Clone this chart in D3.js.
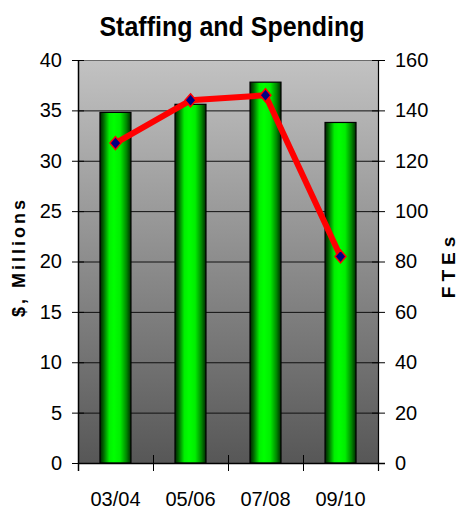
<!DOCTYPE html>
<html>
<head>
<meta charset="utf-8">
<script src="https://cdn.jsdelivr.net/npm/d3@7"></script>
<style>
  body { margin: 0; background: #fff; }
  text { font-family: "Liberation Sans", Arial, sans-serif; fill: #000; }
</style>
</head>
<body>
<div id="chart"></div>
<script>
// data
const years = ["03/04", "05/06", "07/08", "09/10"];
const spending = [34.8, 35.6, 37.8, 33.8];   // $ millions, bars, left axis
const ftes = [127, 144, 146, 82];            // FTEs, line, right axis
const leftTicks = [0, 5, 10, 15, 20, 25, 30, 35, 40];
const rightTicks = [0, 20, 40, 60, 80, 100, 120, 140, 160];

const W = 461, H = 513;
const margin = { top: 60, right: 83, bottom: 50, left: 78 };
const width = W - margin.left - margin.right,
    height = H - margin.top - margin.bottom;

const svg = d3.select("#chart").append("svg")
    .attr("width", W)
    .attr("height", H);

const defs = svg.append("defs");

// plot background, light grey at top to dark grey at bottom
const bg = defs.append("linearGradient")
    .attr("id", "bg")
    .attr("x1", 0).attr("y1", 0).attr("x2", 0).attr("y2", 1);
bg.append("stop").attr("offset", "0%").attr("stop-color", "#c2c2c2");
bg.append("stop").attr("offset", "100%").attr("stop-color", "#575757");

// cylinder look on the bars
const barGrad = defs.append("linearGradient")
    .attr("id", "barGrad")
    .attr("x1", 0).attr("y1", 0).attr("x2", 1).attr("y2", 0);
[["0%", "#002000"], ["12%", "#006a00"], ["30%", "#00f000"], ["45%", "#00ff00"],
 ["65%", "#00ee00"], ["85%", "#008a00"], ["100%", "#002a00"]]
    .forEach(s => barGrad.append("stop").attr("offset", s[0]).attr("stop-color", s[1]));

const g = svg.append("g")
    .attr("transform", "translate(" + margin.left + "," + margin.top + ")");

const x = d3.scaleBand()
    .domain(years)
    .range([0, width])
    .paddingInner(0.587)
    .paddingOuter(0.293);

const xCat = d3.scaleBand()
    .domain(years)
    .range([0, width]);

const yLeft = d3.scaleLinear()
    .domain([0, 40])
    .range([height, 0]);

const yRight = d3.scaleLinear()
    .domain([0, 160])
    .range([height, 0]);

g.append("rect")
    .attr("width", width)
    .attr("height", height)
    .attr("fill", "url(#bg)");

// gridlines
g.selectAll(".grid")
    .data(leftTicks.filter(d => d > 0))
    .enter()
    .append("line")
    .attr("class", "grid")
    .attr("x1", 0)
    .attr("x2", width)
    .attr("y1", d => yLeft(d) + 0.5)
    .attr("y2", d => yLeft(d) + 0.5)
    .attr("stroke", d => d === 40 ? "#6a6a6a" : "#111")
    .attr("stroke-width", 1);

// bars
g.selectAll(".bar")
    .data(spending)
    .enter()
    .append("rect")
    .attr("class", "bar")
    .attr("x", (d, i) => x(years[i]))
    .attr("y", d => yLeft(d))
    .attr("width", x.bandwidth())
    .attr("height", d => height - yLeft(d))
    .attr("fill", "url(#barGrad)")
    .attr("stroke", "#000")
    .attr("stroke-width", 1.2);

// left axis
g.append("g")
    .attr("class", "y-left")
    .call(d3.axisLeft(yLeft).tickValues(leftTicks).tickSize(0).tickPadding(16))
    .call(a => a.select(".domain").remove())
    .selectAll("text")
    .style("font-size", "20px");

g.selectAll(".ltick")
    .data(leftTicks)
    .enter()
    .append("line")
    .attr("x1", -6).attr("x2", 6)
    .attr("y1", d => yLeft(d) + 0.5).attr("y2", d => yLeft(d) + 0.5)
    .attr("stroke", "#000");

g.append("line")
    .attr("x1", 0.5).attr("x2", 0.5)
    .attr("y1", 0).attr("y2", height + 8)
    .attr("stroke", "#000").attr("stroke-width", 1.5);

// right axis
g.append("g")
    .attr("class", "y-right")
    .attr("transform", "translate(" + width + ",0)")
    .call(d3.axisRight(yRight).tickValues(rightTicks).tickSize(0).tickPadding(17))
    .call(a => a.select(".domain").remove())
    .selectAll("text")
    .style("font-size", "20px");

g.selectAll(".rtick")
    .data(rightTicks)
    .enter()
    .append("line")
    .attr("x1", width - 6).attr("x2", width + 7)
    .attr("y1", d => yRight(d) + 0.5).attr("y2", d => yRight(d) + 0.5)
    .attr("stroke", "#000");

g.append("line")
    .attr("x1", width + 0.5).attr("x2", width + 0.5)
    .attr("y1", 0).attr("y2", height + 8)
    .attr("stroke", "#000").attr("stroke-width", 1.2);

// x axis
g.append("line")
    .attr("x1", 0).attr("x2", width + 7)
    .attr("y1", height + 0.5).attr("y2", height + 0.5)
    .attr("stroke", "#000").attr("stroke-width", 1.5);

g.selectAll(".xtick")
    .data(years.map(d => xCat(d)).concat([width]))
    .enter()
    .append("line")
    .attr("x1", d => d + 0.5).attr("x2", d => d + 0.5)
    .attr("y1", height - 8).attr("y2", height + 8)
    .attr("stroke", "#000");

g.append("g")
    .attr("class", "x-axis")
    .attr("transform", "translate(0," + height + ")")
    .call(d3.axisBottom(xCat).tickSize(0).tickPadding(29))
    .call(a => a.select(".domain").remove())
    .selectAll("text")
    .style("font-size", "20px");

// FTE line
const line = d3.line()
    .x((d, i) => xCat(years[i]) + xCat.bandwidth() / 2)
    .y(d => yRight(d));

g.append("path")
    .datum(ftes)
    .attr("d", line)
    .attr("fill", "none")
    .attr("stroke", "#ff0000")
    .attr("stroke-width", 6)
    .attr("stroke-linejoin", "round");

g.selectAll(".marker")
    .data(ftes)
    .enter()
    .append("path")
    .attr("class", "marker")
    .attr("transform", (d, i) => "translate(" + (xCat(years[i]) + xCat.bandwidth() / 2) + "," + yRight(d) + ")")
    .attr("d", "M0,-6.5L5.5,0L0,6.5L-5.5,0Z")
    .attr("fill", "#000080")
    .attr("stroke", "#ff0000")
    .attr("stroke-width", 1.5);

// titles
svg.append("text")
    .attr("transform", "translate(232,36) scale(1,1.1)")
    .attr("text-anchor", "middle")
    .style("font-size", "25px")
    .style("font-weight", "bold")
    .text("Staffing and Spending");

svg.append("text")
    .attr("transform", "translate(25,257) rotate(-90)")
    .attr("text-anchor", "middle")
    .style("font-size", "18px")
    .style("font-weight", "bold")
    .style("letter-spacing", "3px")
    .text("$, Millions");

svg.append("text")
    .attr("transform", "translate(455,265) rotate(-90)")
    .attr("text-anchor", "middle")
    .style("font-size", "19px")
    .style("font-weight", "bold")
    .style("letter-spacing", "5px")
    .text("FTEs");
</script>
</body>
</html>
